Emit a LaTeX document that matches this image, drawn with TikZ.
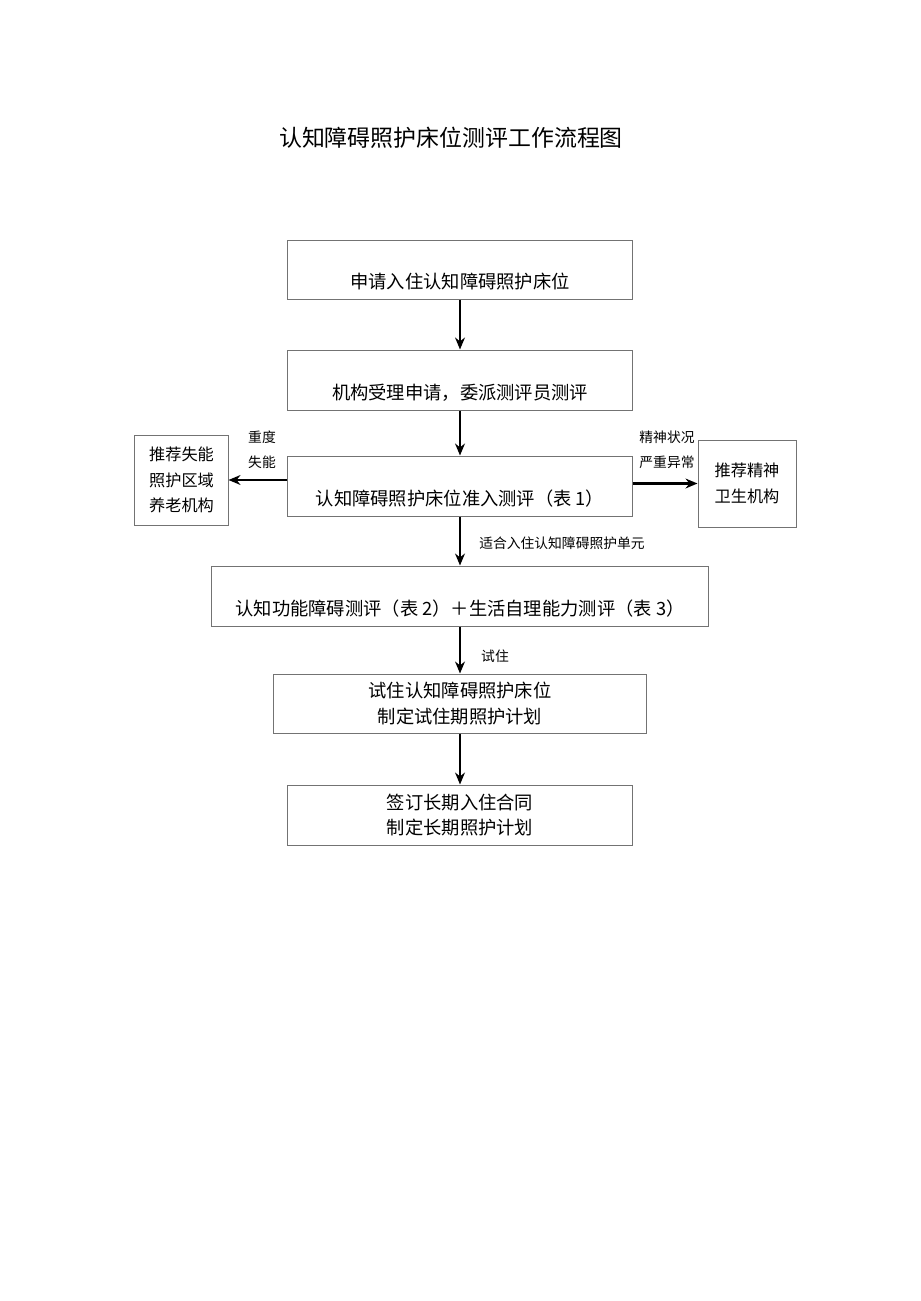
\documentclass[tikz,border=0pt]{standalone}
\usepackage{fontspec}
\setmainfont{Noto Sans CJK SC}
\usetikzlibrary{arrows.meta,positioning}

\begin{document}
\begin{tikzpicture}[x=0.025cm,y=-0.025cm,
  box/.style={draw=black!55,line width=0.7pt,inner sep=0pt,align=center,font=\fontsize{13}{18}\selectfont},
  lowbox/.style={box,text height=0.96cm,text depth=0pt},
  sidebox/.style={box,font=\fontsize{11.5}{18}\selectfont},
  note/.style={inner sep=0pt,align=center,font=\fontsize{9.8}{18}\selectfont},
  arr/.style={-{Stealth[length=8.5pt,width=7pt]},line width=1.6pt}]
\useasboundingbox (0,0) rectangle (920,1301);
% title
\node (title) at (451,138) [font=\fontsize{16.3}{20}\selectfont] {认知障碍照护床位测评工作流程图};
% main column
\node[lowbox,minimum width=8.6cm,minimum height=1.475cm] (apply) at (460,269.5) {申请入住认知障碍照护床位};
\node[lowbox,minimum width=8.6cm,minimum height=1.5cm] (accept) at (460,380) {机构受理申请，委派测评员测评};
\node[lowbox,minimum width=8.6cm,minimum height=1.5cm] (entry) at (460,486) {认知障碍照护床位准入测评（表 1）};
\node[lowbox,minimum width=12.4cm,minimum height=1.5cm] (scale) at (460,596) {认知功能障碍测评（表 2）＋生活自理能力测评（表 3）};
\node[box,minimum width=9.325cm,minimum height=1.475cm] (trial) at (460,703.5) {试住认知障碍照护床位\\制定试住期照护计划};
\node[box,minimum width=8.625cm,minimum height=1.5cm] (sign) at (460,815) {签订长期入住合同\\制定长期照护计划};
% side boxes
\node[sidebox,minimum width=2.325cm,minimum height=2.25cm] (disab) at (181.5,480) {推荐失能\\照护区域\\养老机构};
\node[sidebox,minimum width=2.45cm,minimum height=2.175cm] (mental) at (747,483.5) {推荐精神\\卫生机构};
% labels
\node[note] (severe) at (262,450) {重度\\失能};
\node[note] (psych) at (667,450) {精神状况\\严重异常};
\node[note,anchor=west] (fit) at (479,543) {适合入住认知障碍照护单元};
\node[note] (stay) at (495,656) {试住};
% arrows
\draw[arr] (apply) -- (accept);
\draw[arr] (accept) -- (entry);
\draw[arr] (entry) -- (scale);
\draw[arr] (scale) -- (trial);
\draw[arr] (trial) -- (sign);
\draw[arr] (entry.west |- disab) -- (disab.east);
\draw[arr] (entry.east |- mental) -- (mental.west);
\end{tikzpicture}
\end{document}
